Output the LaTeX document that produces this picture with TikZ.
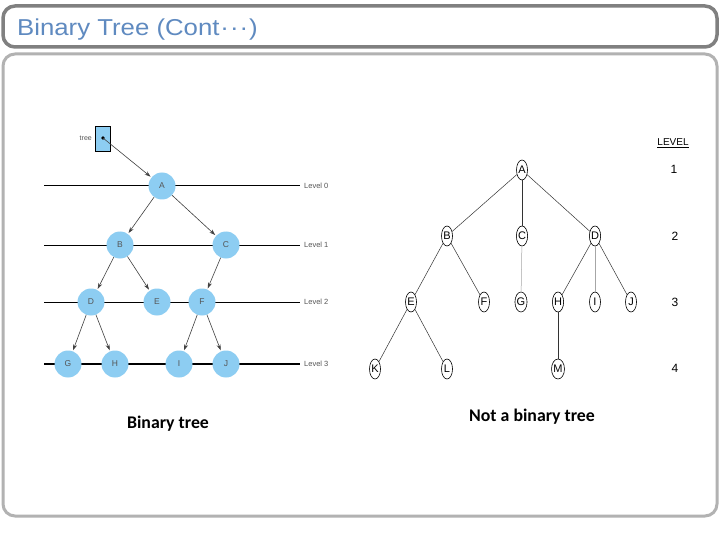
\documentclass[tikz,border=0pt]{standalone}
\usepackage{fontspec}
\setmainfont{Liberation Sans}
\newfontfamily\capfont{Carlito}
\newfontfamily\titlefont[FakeStretch=1.12]{Liberation Sans}
\usetikzlibrary{arrows.meta,shapes.geometric}
\definecolor{titleblue}{HTML}{5F8AC0}
\definecolor{nodeblue}{HTML}{8DCDF2}
\definecolor{lvlgray}{HTML}{555555}
\tikzset{
  bnode/.style={circle,fill=nodeblue,minimum size=27pt,inner sep=0pt,font=\fontsize{8.5}{9}\selectfont\color{lvlgray}},
  barrow/.style={draw=black!75,line width=0.6pt,-{Stealth[length=6pt,width=4pt]},shorten >=1pt},
  lvlline/.style={line width=1pt,black},
  lvltext/.style={anchor=west,font=\fontsize{7.5}{8}\selectfont,text=lvlgray,inner sep=0pt},
  rnode/.style={ellipse,draw,line width=0.6pt,minimum width=11pt,minimum height=20pt,inner sep=0pt,font=\fontsize{11}{12}\selectfont},
  redge/.style={line width=0.5pt,black!80},
  rlvl/.style={font=\fontsize{12}{13}\selectfont},
  captext/.style={font=\capfont\bfseries\fontsize{17.8}{20}\selectfont},
}
\begin{document}
\begin{tikzpicture}[x=1pt,y=-1pt]
\useasboundingbox (0,0) rectangle (720,540);
\fill[white] (0,0) rectangle (720,540);
% frames
\draw[line width=3.5pt,draw=black!50,rounded corners=12pt] (3,6) rectangle (717,47);
\node[anchor=west,inner sep=0pt,font=\titlefont\fontsize{23}{25}\selectfont,text=titleblue] (title) at (17,30) {Binary Tree (Cont\kern1pt·\kern1pt·\kern1pt·\kern1pt)};
\draw[line width=3pt,draw=black!30,rounded corners=12pt] (3,54) rectangle (717,516);

% left tree level lines
\draw[lvlline] (44,186) -- (300,186);
\draw[lvlline] (44,245) -- (300,245);
\draw[lvlline] (44,302) -- (300,302);
\draw[line width=2pt] (44,364) -- (300,364);
\node[lvltext] (l0) at (304,186) {Level 0};
\node[lvltext] (l1) at (304,245) {Level 1};
\node[lvltext] (l2) at (304,302) {Level 2};
\node[lvltext] (l3) at (304,364) {Level 3};

% nodes
\node[bnode] (A) at (162,186) {A};
\node[bnode] (B) at (120,245) {B};
\node[bnode] (C) at (226,245) {C};
\node[bnode] (D) at (91,302) {D};
\node[bnode] (E) at (157,302) {E};
\node[bnode] (F) at (202,302) {F};
\node[bnode] (G) at (68,364) {G};
\node[bnode] (H) at (115,364) {H};
\node[bnode] (I) at (179,364) {I};
\node[bnode] (J) at (226,364) {J};

% tree pointer
\node[draw,line width=0.8pt,fill=nodeblue,minimum width=15pt,minimum height=25pt,inner sep=0pt] (tbox) at (103,139) {};
\node[anchor=east,inner sep=0pt,font=\fontsize{7}{8}\selectfont,text=lvlgray] (tlabel) at (92,138) {tree};
\fill (103,138) circle (1.8pt);
\coordinate (tdot) at (103,138);
\draw[barrow] (tdot) -- (A);

\draw[barrow] (A) -- (B);
\draw[barrow] (A) -- (C);
\draw[barrow] (B) -- (D);
\draw[barrow] (B) -- (E);
\draw[barrow] (C) -- (F);
\draw[barrow] (D) -- (G);
\draw[barrow] (D) -- (H);
\draw[barrow] (F) -- (I);
\draw[barrow] (F) -- (J);

\node[captext] (cap1) at (168,424) {Binary tree};

% right tree
\node[rnode] (rA) at (522,170) {A};
\node[rnode] (rB) at (447,236) {B};
\node[rnode] (rC) at (522,236) {C};
\node[rnode] (rD) at (595,236) {D};
\node[rnode] (rE) at (411,302) {E};
\node[rnode] (rF) at (484,302) {F};
\node[rnode] (rG) at (521,302) {G};
\node[rnode] (rH) at (558,302) {H};
\node[rnode] (rI) at (595,302) {I};
\node[rnode] (rJ) at (631,302) {J};
\node[rnode] (rK) at (375,369) {K};
\node[rnode] (rL) at (447,369) {L};
\node[rnode] (rM) at (558,369) {M};

\draw[redge] (rA) -- (rB);
\draw[redge] (rA) -- (rC);
\draw[redge] (rA) -- (rD);
\draw[redge] (rB) -- (rE);
\draw[redge] (rB) -- (rF);
\draw[redge,black!35] (rC) -- (rG);
\draw[redge] (rD) -- (rH);
\draw[redge,black!35] (rD) -- (rI);
\draw[redge] (rD) -- (rJ);
\draw[redge] (rE) -- (rK);
\draw[redge] (rE) -- (rL);
\draw[redge,line width=0.8pt] (rH) -- (rM);

\node[font=\fontsize{10}{11}\selectfont] (lev) at (673,143) {\underline{LEVEL}};
\node[rlvl] (v1) at (674,169) {1};
\node[rlvl] (v2) at (675,236) {2};
\node[rlvl] (v3) at (675,302) {3};
\node[rlvl] (v4) at (675,368) {4};

\node[captext] (cap2) at (532,417) {Not a binary tree};
\end{tikzpicture}
\end{document}
